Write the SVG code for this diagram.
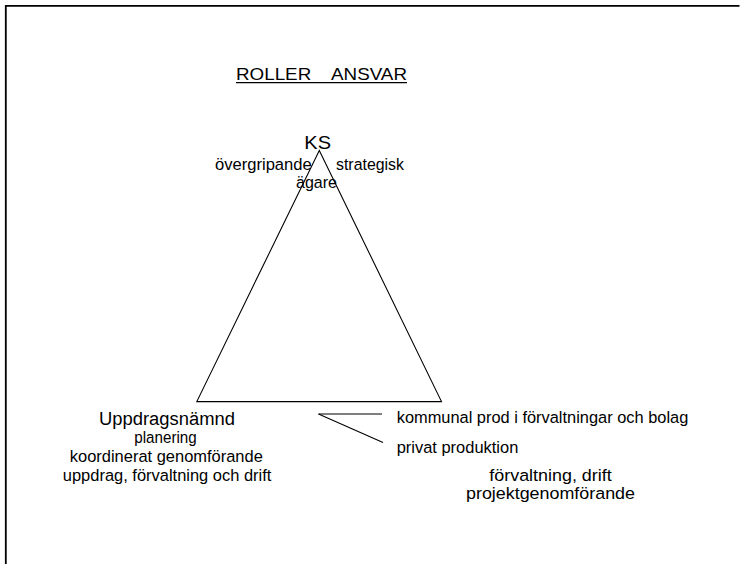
<svg xmlns="http://www.w3.org/2000/svg" width="740" height="564" viewBox="0 0 740 564">
<style>
text{font-family:"Liberation Sans",Arial,sans-serif;fill:#000;}
.s{font-size:16.3px;}
.b{font-size:18px;}
.t{font-size:17px;}
.ln{stroke:#000;stroke-width:1.1;fill:none;}
</style>
<rect width="740" height="564" fill="#fff"/>
<path d="M5.8,564 V5.8 H739.5" fill="none" stroke="#000" stroke-width="1.8"/>
<g id="title">
<text class="t" x="236" y="79.5" textLength="171" lengthAdjust="spacingAndGlyphs" xml:space="preserve" style="white-space:pre">ROLLER    ANSVAR</text>
<line x1="236" y1="82.6" x2="407" y2="82.6" stroke="#000" stroke-width="1.2"/>
</g>
<g id="connectors">
<polygon class="ln" points="319.3,150.5 441.5,401.6 196.8,401.6"/>
<line class="ln" x1="318.5" y1="414" x2="382" y2="414"/>
<line class="ln" x1="318.5" y1="414" x2="383" y2="442.5"/>
</g>
<g id="node-ks">
<text class="b" x="304.3" y="149" textLength="26.7" lengthAdjust="spacingAndGlyphs">KS</text>
<text class="s" x="215" y="170" textLength="96.7" lengthAdjust="spacingAndGlyphs">övergripande</text>
<text class="s" x="336" y="170" textLength="68" lengthAdjust="spacingAndGlyphs">strategisk</text>
<text class="s" x="296" y="188" textLength="41" lengthAdjust="spacingAndGlyphs">ägare</text>
</g>
<g id="node-uppdragsnamnd">
<text class="b" x="99" y="425" textLength="136" lengthAdjust="spacingAndGlyphs">Uppdragsnämnd</text>
<text class="s" x="134.3" y="443.3" textLength="62.4" lengthAdjust="spacingAndGlyphs">planering</text>
<text class="s" x="69.8" y="461.7" textLength="193" lengthAdjust="spacingAndGlyphs">koordinerat genomförande</text>
<text class="s" x="62.8" y="480.7" textLength="208.6" lengthAdjust="spacingAndGlyphs">uppdrag, förvaltning och drift</text>
</g>
<g id="node-kommunal">
<text class="s" x="396.7" y="422.5" textLength="291.6" lengthAdjust="spacingAndGlyphs">kommunal prod i förvaltningar och bolag</text>
</g>
<g id="node-privat">
<text class="s" x="396.7" y="453" textLength="121.6" lengthAdjust="spacingAndGlyphs">privat produktion</text>
</g>
<g id="node-utforare">
<text class="s" x="489.3" y="480.7" textLength="122.4" lengthAdjust="spacingAndGlyphs">förvaltning, drift</text>
<text class="s" x="466" y="499.3" textLength="169" lengthAdjust="spacingAndGlyphs">projektgenomförande</text>
</g>
</svg>
